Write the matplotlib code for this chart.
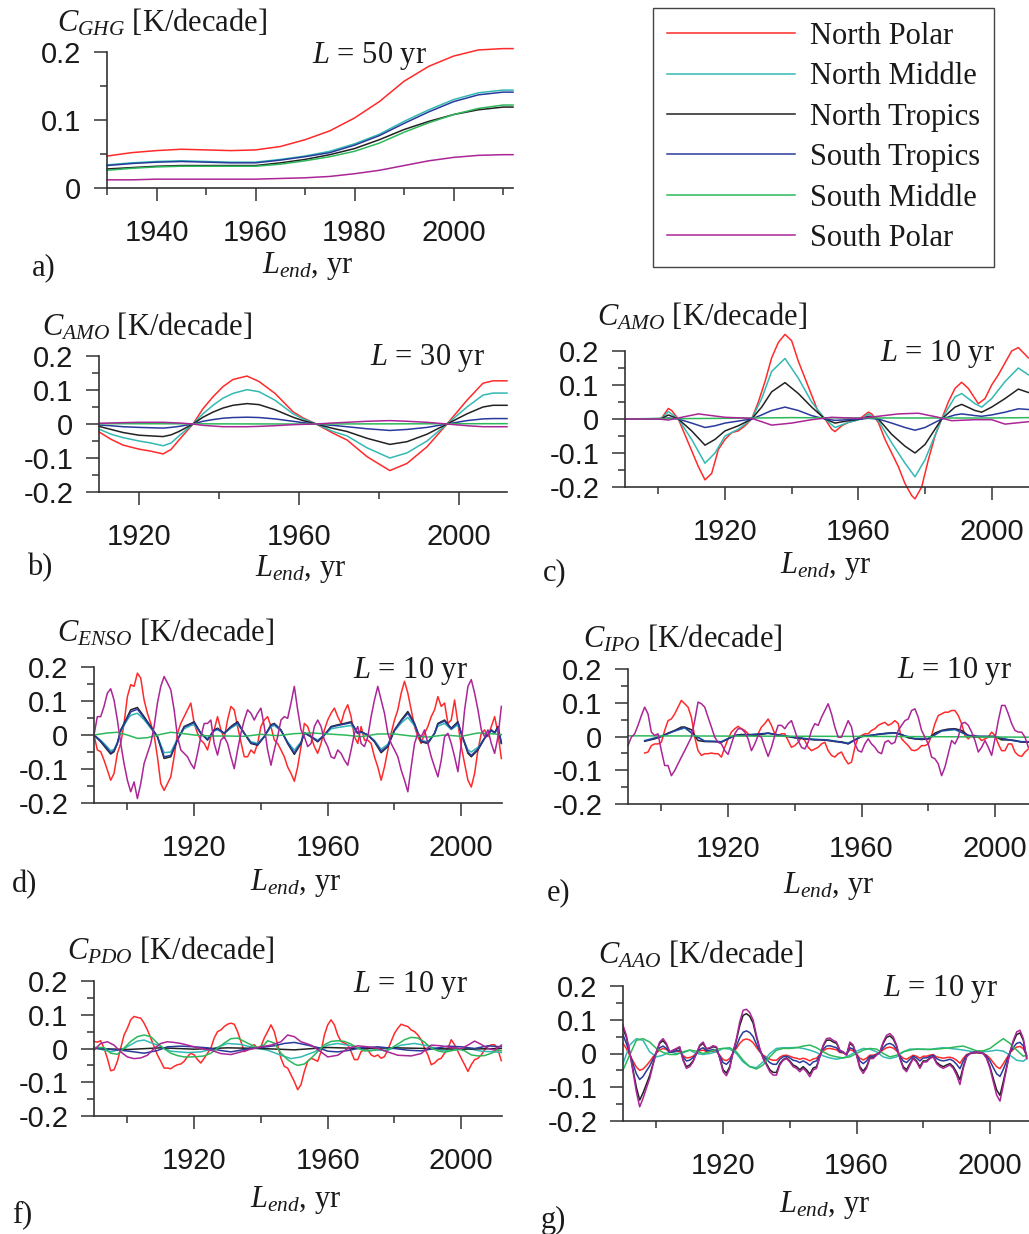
import numpy as np
import matplotlib
matplotlib.use("Agg")
import matplotlib.pyplot as plt
from matplotlib.font_manager import FontProperties

plt.rcParams["font.family"] = "Liberation Sans"
plt.rcParams["mathtext.fontset"] = "custom"
plt.rcParams["mathtext.rm"] = "Liberation Serif"
plt.rcParams["mathtext.it"] = "Liberation Serif:italic"

W, H = 1029, 1234

# ---------------- data ----------------
zones = ["North Polar", "North Middle", "North Tropics", "South Tropics", "South Middle", "South Polar"]
colors = ["#ff2a2a", "#33b9b3", "#222222", "#2a3a9c", "#2db85a", "#ab2596"]

# a) GHG, L = 50 yr
a_years = [1930, 1935, 1940, 1945, 1950, 1955, 1960, 1965, 1970, 1975, 1980, 1985, 1990, 1995, 2000, 2005, 2010, 2012]
a_red = [.047, .052, .055, .057, .056, .055, .056, .061, .071, .084, .103, .127, .157, .179, .194, .203, .205, .205]
a_cyan = [.034, .037, .039, .040, .039, .038, .038, .042, .047, .054, .065, .079, .098, .115, .130, .140, .144, .144]
a_black = [.028, .030, .032, .033, .033, .033, .033, .037, .042, .049, .058, .071, .086, .098, .108, .115, .119, .119]
a_blue = [.033, .036, .038, .039, .038, .037, .037, .041, .046, .052, .063, .077, .095, .112, .127, .137, .141, .141]
a_green = [.026, .029, .031, .032, .032, .032, .032, .035, .040, .046, .054, .066, .082, .096, .108, .117, .122, .122]
a_magenta = [.012, .012, .013, .013, .013, .013, .013, .014, .015, .017, .021, .026, .033, .040, .045, .048, .049, .049]

# b) AMO, L = 30 yr
b_years = [1910, 1913, 1916, 1920, 1923, 1926, 1928, 1930, 1933.5, 1936, 1938.5, 1941, 1943.5, 1947, 1950,
           1954, 1958.5, 1961, 1964.3, 1968.5, 1972, 1977, 1982.7, 1987, 1992, 1997, 2002, 2006, 2008.5, 2012]
b_red = [-0.023, -0.045, -0.062, -0.074, -0.080, -0.088, -0.075, -0.047, 0.0, 0.045, 0.080, 0.110, 0.131, 0.141, 0.125,
         0.090, 0.036, 0.018, 0.0, -0.027, -0.047, -0.096, -0.137, -0.116, -0.067, 0.0, 0.070, 0.120, 0.127, 0.127]
b_cyan = [-0.015, -0.030, -0.040, -0.050, -0.056, -0.064, -0.056, -0.035, 0.0, 0.030, 0.055, 0.076, 0.090, 0.101, 0.095,
          0.070, 0.030, 0.015, 0.0, -0.022, -0.035, -0.070, -0.100, -0.085, -0.050, 0.0, 0.050, 0.085, 0.091, 0.091]
b_black = [-0.007, -0.016, -0.025, -0.033, -0.035, -0.037, -0.032, -0.022, 0.0, 0.020, 0.035, 0.047, 0.055, 0.060, 0.057,
           0.042, 0.020, 0.010, 0.0, -0.013, -0.022, -0.042, -0.060, -0.052, -0.030, 0.0, 0.030, 0.050, 0.055, 0.055]
b_blue = [-0.003, -0.005, -0.008, -0.010, -0.011, -0.012, -0.010, -0.007, 0.0, 0.008, 0.013, 0.017, 0.019, 0.020, 0.019,
          0.015, 0.008, 0.004, 0.0, -0.004, -0.008, -0.014, -0.019, -0.016, -0.010, 0.0, 0.010, 0.015, 0.016, 0.016]
b_green_years = [1910, 1960, 2012]
b_green = [0.001, 0.0, 0.001]
b_magenta = [0.002, 0.003, 0.004, 0.005, 0.005, 0.005, 0.004, 0.003, 0.0, -0.004, -0.006, -0.008, -0.008, -0.008, -0.007,
             -0.005, -0.002, -0.001, 0.0, 0.003, 0.005, 0.008, 0.010, 0.008, 0.005, 0.0, -0.005, -0.008, -0.008, -0.008]

# c) AMO, L = 10 yr
c_red_years = [1890, 1900, 1901, 1903, 1904, 1906, 1909, 1912, 1914, 1916, 1918, 1920, 1922, 1924, 1926, 1928, 1930,
               1932, 1934, 1936, 1938, 1940, 1942, 1944, 1946, 1948, 1950, 1952, 1953, 1955, 1957, 1959, 1961, 1963,
               1964, 1966, 1968, 1970, 1972, 1974, 1976, 1977, 1979, 1981, 1983, 1985, 1987, 1989, 1991, 1993, 1995,
               1996, 1998, 2000, 2002, 2004, 2006, 2008, 2010, 2011]
c_red = [0, 0, 0.003, 0.031, 0.025, 0.0, -0.07, -0.14, -0.179, -0.16, -0.09, -0.06, -0.04, -0.035, -0.02, 0.0, 0.05,
         0.11, 0.18, 0.225, 0.249, 0.23, 0.17, 0.12, 0.07, 0.02, 0.0, -0.03, -0.037, -0.02, -0.01, -0.005, 0.005, 0.02,
         0.015, -0.01, -0.06, -0.1, -0.14, -0.19, -0.225, -0.235, -0.2, -0.12, -0.05, 0.0, 0.05, 0.09, 0.108, 0.09, 0.06,
         0.045, 0.06, 0.1, 0.13, 0.165, 0.2, 0.21, 0.19, 0.18]
c_years = [1890, 1901, 1903, 1906, 1910, 1914, 1917, 1920, 1924, 1928, 1931, 1934, 1938, 1942, 1946, 1950, 1953,
           1957, 1961, 1963, 1966, 1970, 1974, 1977, 1980, 1985, 1989, 1991, 1995, 1997, 2000, 2004, 2008, 2011]
c_cyan = [0, 0.002, 0.022, 0.0, -0.06, -0.13, -0.1, -0.05, -0.03, 0.0, 0.06, 0.14, 0.178, 0.12, 0.05, 0.0, -0.025,
          -0.01, 0.0, 0.015, -0.005, -0.07, -0.13, -0.17, -0.12, 0.0, 0.065, 0.075, 0.045, 0.035, 0.06, 0.11, 0.15, 0.13]
c_black = [0, 0.001, 0.012, 0.0, -0.035, -0.077, -0.06, -0.035, -0.02, 0.0, 0.035, 0.08, 0.107, 0.075, 0.035, 0.0, -0.012,
           -0.005, 0.0, 0.008, 0.0, -0.045, -0.08, -0.1, -0.075, 0.0, 0.035, 0.043, 0.025, 0.02, 0.035, 0.06, 0.088, 0.078]
c_blue = [0, 0.0, 0.003, 0.0, -0.012, -0.025, -0.02, -0.012, -0.006, 0.0, 0.012, 0.025, 0.035, 0.025, 0.01, 0.0, -0.004,
          -0.002, 0.0, 0.002, 0.0, -0.012, -0.025, -0.033, -0.025, 0.0, 0.012, 0.015, 0.01, 0.008, 0.012, 0.02, 0.03, 0.028]
c_green_years = [1890, 1905, 1920, 1940, 1960, 1980, 2000, 2011]
c_green = [0, 0.001, 0.002, 0.004, 0.003, 0.003, 0.003, 0.004]
c_magenta_years = [1890, 1900, 1903, 1906, 1912, 1920, 1928, 1934, 1940, 1946, 1952, 1960, 1966, 1972, 1978, 1984,
                   1988, 1995, 2000, 2004, 2011]
c_magenta = [0, 0, -0.003, 0.003, 0.015, 0.005, 0.002, -0.018, -0.012, -0.002, 0.005, 0.002, 0.008, 0.015, 0.017, 0.005,
             -0.005, -0.002, -0.002, -0.015, -0.008]

# d) ENSO, L = 10 yr
annual = np.arange(1890, 2013)
d_red = [0, -0.044, -0.049, -0.074, -0.103, -0.133, -0.113, -0.054, -0.025, 0.034,
         0.113, 0.148, 0.143, 0.182, 0.167, 0.103, 0.064, 0.034, 0.0, -0.064,
         -0.143, -0.163, -0.143, -0.123, -0.064, 0.005, 0.034, 0.054, 0.074, 0.094,
         0.034, 0.005, -0.015, -0.025, -0.044, -0.005, 0.015, 0.054, 0.015, -0.010,
         0.044, 0.084, 0.074, 0.025, -0.020, -0.064, -0.064, -0.044, -0.054, -0.025,
         0.025, 0.044, 0.054, 0.025, -0.015, -0.025, -0.044, -0.064, -0.094, -0.113,
         -0.136, -0.094, -0.034, 0.034, 0.025, -0.005, -0.034, -0.054, -0.025, 0.015,
         0.044, 0.064, 0.079, 0.054, 0.034, 0.069, 0.089, 0.054, -0.005, -0.025,
         0.025, -0.015, -0.015, -0.025, -0.064, -0.094, -0.133, -0.094, -0.044, 0.005,
         0.044, 0.074, 0.123, 0.158, 0.123, 0.074, 0.025, -0.005, -0.025, 0.005,
         0.025, 0.054, 0.074, 0.113, 0.084, 0.094, 0.034, 0.044, 0.103, 0.034,
         -0.034, -0.084, -0.133, -0.153, -0.113, -0.044, 0.005, 0.015, -0.005, 0.025,
         0.054, 0.005, -0.069]
d_magenta = [0, 0.054, 0.054, 0.084, 0.123, 0.136, 0.103, 0.044, -0.025, -0.084,
             -0.133, -0.167, -0.138, -0.187, -0.143, -0.084, -0.054, -0.025, 0.025, 0.094,
             0.143, 0.172, 0.153, 0.133, 0.074, -0.005, -0.044, -0.054, -0.064, -0.084,
             -0.099, -0.054, -0.005, 0.034, 0.034, 0.044, -0.025, -0.059, -0.015, -0.005,
             -0.025, -0.064, -0.099, -0.044, 0.005, 0.044, 0.074, 0.064, 0.044, 0.064,
             0.079, 0.025, -0.044, -0.089, -0.044, -0.005, 0.044, 0.054, 0.049, 0.094,
             0.143, 0.074, 0.015, -0.005, -0.034, -0.025, 0.025, 0.044, 0.025, -0.015,
             -0.034, -0.064, -0.069, -0.044, -0.054, -0.074, -0.089, -0.044, 0.005, 0.025,
             -0.025, -0.034, -0.005, 0.054, 0.103, 0.143, 0.103, 0.064, 0.005, -0.025,
             -0.044, -0.064, -0.103, -0.133, -0.167, -0.094, -0.025, 0.005, -0.005, 0.015,
             -0.025, -0.064, -0.094, -0.123, -0.074, -0.005, 0.005, -0.025, -0.064, -0.108,
             -0.025, 0.074, 0.143, 0.163, 0.123, 0.074, 0.015, -0.005, 0.015, -0.025,
             -0.054, -0.005, 0.084]
d_years = [1890, 1892, 1894, 1895, 1896, 1897, 1898, 1899, 1900, 1901, 1903, 1905, 1907, 1909, 1911, 1913, 1915,
           1917, 1919, 1920, 1922, 1924, 1926, 1927, 1929, 1931, 1933, 1935, 1937, 1939, 1941, 1943, 1944, 1946,
           1948, 1950, 1952, 1953, 1955, 1957, 1959, 1961, 1963, 1965, 1967, 1969, 1970, 1972, 1974, 1976, 1978,
           1980, 1982, 1984, 1986, 1988, 1990, 1992, 1993, 1995, 1997, 1999, 2000, 2002, 2003, 2005, 2007, 2009,
           2010, 2011, 2012]
d_black = [0, -0.020, -0.044, -0.056, -0.049, -0.025, 0.015, 0.034, 0.054, 0.074, 0.081, 0.054, 0.025, -0.005,
           -0.069, -0.064, -0.015, 0.025, 0.034, 0.039, 0.005, -0.015, 0.015, 0.020, 0.005, 0.025, 0.039, 0.005,
           -0.025, -0.030, -0.005, 0.030, 0.034, 0.015, -0.025, -0.057, -0.025, 0.007, -0.005, -0.020, 0.0, 0.025,
           0.030, 0.034, 0.039, 0.005, 0.010, 0.0, -0.020, -0.052, -0.034, 0.015, 0.044, 0.069, 0.034, -0.020,
           -0.025, 0.005, 0.034, 0.044, 0.020, 0.039, 0.005, -0.054, -0.064, -0.044, -0.010, 0.015, 0.007, 0.025,
           -0.025]
d_cyan = [0, -0.015, -0.035, -0.046, -0.042, -0.022, 0.010, 0.028, 0.045, 0.058, 0.064, 0.045, 0.020, -0.005,
          -0.052, -0.050, -0.012, 0.018, 0.028, 0.030, 0.005, -0.010, 0.012, 0.015, 0.005, 0.020, 0.032, 0.005,
          -0.020, -0.024, -0.004, 0.024, 0.028, 0.012, -0.020, -0.045, -0.020, 0.005, -0.004, -0.015, 0.0, 0.018,
          0.022, 0.025, 0.028, 0.004, 0.008, 0.0, -0.016, -0.042, -0.027, 0.012, 0.035, 0.052, 0.027, -0.016,
          -0.020, 0.004, 0.026, 0.034, 0.016, 0.030, 0.004, -0.044, -0.050, -0.036, -0.008, 0.012, 0.006, 0.018,
          -0.020]
d_blue = [0, -0.018, -0.040, -0.052, -0.046, -0.024, 0.013, 0.031, 0.050, 0.068, 0.076, 0.050, 0.023, -0.005,
          -0.064, -0.060, -0.014, 0.023, 0.032, 0.036, 0.005, -0.014, 0.014, 0.018, 0.005, 0.023, 0.036, 0.005,
          -0.023, -0.028, -0.005, 0.028, 0.032, 0.014, -0.023, -0.053, -0.023, 0.006, -0.005, -0.018, 0.0, 0.023,
          0.028, 0.032, 0.036, 0.005, 0.009, 0.0, -0.018, -0.048, -0.032, 0.014, 0.041, 0.064, 0.032, -0.018,
          -0.023, 0.005, 0.032, 0.041, 0.018, 0.036, 0.005, -0.050, -0.060, -0.041, -0.009, 0.014, 0.006, 0.023,
          -0.023]
d_green_years = [1890, 1894, 1897, 1900, 1903, 1906, 1910, 1913, 1916, 1920, 1925, 1930, 1935, 1940, 1945, 1950,
                 1955, 1960, 1965, 1970, 1975, 1980, 1985, 1990, 1995, 2000, 2005, 2010, 2012]
d_green = [0, 0.006, 0.008, 0.0, -0.01, -0.008, 0.002, 0.008, 0.005, 0, -0.003, -0.003, -0.004, 0.002, -0.002, 0.004,
           0.006, 0.003, 0.0, -0.005, 0.003, 0.003, -0.003, -0.006, 0.0, -0.004, 0.006, 0.003, 0.001]

# e) IPO, L = 10 yr
e_red_years = np.arange(1895, 2011)
e_red = [-0.049, -0.046, -0.027, -0.022, -0.022,
         -0.017, 0.018, 0.047, 0.052, 0.067, 0.087, 0.107, 0.097, 0.087, 0.057,
         -0.002, -0.042, -0.056, -0.051, -0.051, -0.049, -0.051, -0.051, -0.061, -0.032,
         -0.007, 0.013, 0.023, 0.030, 0.023, 0.018, 0.008, 0.003, 0.003, 0.008,
         0.028, 0.038, 0.052, 0.033, 0.008, 0.003, 0.008, 0.008, -0.012, -0.032,
         -0.027, -0.017, -0.002, -0.012, -0.032, -0.042, -0.037, -0.032, -0.022, -0.017,
         -0.042, -0.056, -0.061, -0.051, -0.046, -0.066, -0.081, -0.076, -0.032, -0.002,
         0.003, 0.008, 0.008, 0.018, 0.023, 0.033, 0.038, 0.042, 0.033, 0.038,
         0.047, 0.038, -0.007, -0.017, -0.027, -0.040, -0.042, -0.037, -0.027, -0.027,
         -0.022, 0.003, 0.038, 0.062, 0.067, 0.072, 0.072, 0.077, 0.077, 0.062,
         0.038, 0.003, -0.007, 0.003, 0.003, -0.002, -0.012, -0.007, -0.002, 0.013,
         0.003, -0.022, -0.042, -0.042, -0.022, -0.022, -0.046, -0.056, -0.059, -0.046,
         -0.037]
e_magenta_years = np.arange(1890, 2011)
e_magenta = [-0.027, -0.002, 0.008, 0.033, 0.062, 0.087, 0.067, 0.013, 0.003, 0.008,
             -0.042, -0.086, -0.086, -0.116, -0.101, -0.081, -0.061, -0.042, -0.022, -0.002,
             0.047, 0.102, 0.097, 0.087, 0.057, 0.028, -0.002, -0.017, -0.022, -0.042,
             -0.053, -0.022, 0.008, 0.023, 0.023, 0.013, -0.007, -0.042, -0.022, 0.003,
             -0.002, -0.032, -0.059, -0.032, 0.003, 0.033, 0.033, 0.023, 0.038, 0.047,
             0.018, -0.012, -0.032, -0.037, -0.017, 0.018, 0.038, 0.033, 0.057, 0.077,
             0.097, 0.067, 0.028, -0.002, -0.002, 0.023, 0.047, 0.028, -0.022, -0.042,
             -0.046, -0.022, -0.007, -0.022, -0.032, -0.046, -0.051, -0.017, -0.012, -0.022,
             -0.017, 0.018, 0.033, 0.047, 0.052, 0.077, 0.082, 0.057, 0.018, -0.002,
             -0.022, -0.061, -0.066, -0.081, -0.116, -0.091, -0.051, -0.012, -0.022, -0.002,
             0.038, 0.042, 0.033, 0.013, -0.012, -0.046, -0.032, -0.012, -0.032, -0.056,
             -0.007, 0.047, 0.092, 0.092, 0.067, 0.038, 0.018, 0.013, 0.013, -0.002,
             -0.032]
e_black_years = [1895, 1898, 1900, 1902, 1904, 1906, 1907, 1909, 1910, 1911, 1913, 1916, 1918, 1920, 1922, 1924,
                 1926, 1928, 1930, 1932, 1934, 1936, 1938, 1940, 1942, 1944, 1946, 1948, 1950, 1952, 1954, 1956,
                 1958, 1960, 1962, 1964, 1966, 1968, 1970, 1972, 1974, 1976, 1978, 1980, 1982, 1984, 1986, 1988,
                 1990, 1992, 1994, 1996, 1998, 2000, 2002, 2004, 2006, 2008, 2010]
e_black = [-0.014, -0.007, 0.0, 0.010, 0.018, 0.028, 0.028, 0.020, 0.003, -0.012, -0.015, -0.015, -0.017, -0.007,
           0.003, 0.006, 0.005, 0.003, 0.006, 0.010, 0.006, 0.001, 0.0, -0.004, -0.006, -0.008, -0.010, -0.010,
           -0.012, -0.015, -0.016, -0.022, -0.010, 0.0, 0.002, 0.005, 0.008, 0.010, 0.011, 0.006, -0.004, -0.007,
           -0.009, -0.007, 0.010, 0.018, 0.022, 0.023, 0.018, 0.003, -0.002, 0.0, 0.0, 0.0, -0.010, -0.010, -0.012,
           -0.017, -0.017]
e_years = [1895, 1900, 1904, 1907, 1910, 1913, 1918, 1922, 1926, 1932, 1938, 1944, 1950, 1956, 1960, 1966, 1970,
           1976, 1980, 1984, 1988, 1992, 1996, 2000, 2004, 2008, 2010]
e_cyan = [-0.012, 0.002, 0.016, 0.025, 0.003, -0.013, -0.015, 0.003, 0.005, 0.009, 0.0, -0.007, -0.010, -0.019, 0.0,
          0.007, 0.010, -0.006, -0.006, 0.016, 0.020, 0.003, 0.0, 0.0, -0.009, -0.015, -0.015]
e_blue = [-0.013, 0.0, 0.017, 0.027, 0.003, -0.014, -0.016, 0.003, 0.005, 0.010, 0.0, -0.008, -0.011, -0.021, 0.0,
          0.008, 0.011, -0.007, -0.007, 0.017, 0.022, 0.003, 0.0, 0.0, -0.010, -0.016, -0.016]
e_green_years = [1890, 1930, 1970, 2010]
e_green = [0.002, 0.001, 0.0, -0.002]

# f) PDO, L = 10 yr
f_red = [0.021, 0.019, 0.023, 0.001, -0.029, -0.066, -0.063, -0.038, 0.001, 0.040,
         0.060, 0.085, 0.095, 0.092, 0.090, 0.075, 0.055, 0.031, 0.006, -0.019,
         -0.038, -0.058, -0.058, -0.060, -0.053, -0.048, -0.046, -0.038, -0.024, -0.014,
         -0.019, -0.033, -0.043, -0.029, -0.014, 0.001, 0.031, 0.050, 0.055, 0.065,
         0.072, 0.075, 0.072, 0.050, 0.021, -0.009, -0.004, 0.006, 0.011, 0.001,
         0.006, 0.031, 0.050, 0.070, 0.050, 0.011, -0.029, -0.053, -0.058, -0.078,
         -0.098, -0.122, -0.107, -0.068, -0.038, -0.029, -0.033, -0.038, -0.009, 0.040,
         0.070, 0.085, 0.070, 0.040, 0.021, 0.016, 0.011, -0.009, -0.033, -0.033,
         -0.009, -0.004, -0.004, -0.019, -0.024, -0.019, -0.029, -0.024, -0.004, 0.021,
         0.045, 0.060, 0.072, 0.068, 0.065, 0.055, 0.050, 0.040, 0.026, 0.001,
         -0.019, -0.048, -0.043, -0.033, -0.029, -0.014, 0.001, 0.026, 0.011, -0.009,
         -0.029, -0.048, -0.068, -0.048, -0.033, -0.029, -0.019, -0.004, 0.006, 0.011,
         0.011, -0.004, -0.036]
f_cyan_years = [1890, 1895, 1899, 1903, 1905, 1909, 1913, 1918, 1922, 1926, 1930, 1934, 1938, 1942, 1946, 1949,
                1952, 1956, 1960, 1963, 1967, 1971, 1975, 1978, 1982, 1986, 1990, 1994, 1998, 2002, 2006, 2010, 2012]
f_cyan = [0.003, -0.01, 0.0, 0.022, 0.025, 0.01, -0.008, -0.012, -0.01, 0, 0.015, 0.012, 0.002, -0.005, -0.02, -0.03,
          -0.025, -0.01, 0.01, 0.015, 0.008, -0.005, -0.005, -0.005, 0.01, 0.015, 0.008, -0.005, -0.005, 0, -0.008,
          -0.01, -0.012]
f_black_years = [1890, 1900, 1910, 1920, 1930, 1940, 1950, 1960, 1970, 1980, 1990, 2000, 2012]
f_black = [0, -0.003, 0.002, -0.002, 0.002, 0, -0.004, 0.003, 0, 0.002, 0, -0.002, 0]
f_blue_years = [1890, 1895, 1898, 1902, 1905, 1909, 1912, 1916, 1920, 1924, 1928, 1931, 1935, 1940, 1944, 1947,
                1950, 1953, 1957, 1960, 1963, 1966, 1970, 1975, 1980, 1984, 1988, 1992, 1996, 2000, 2004, 2008, 2012]
f_blue = [0.002, -0.003, -0.005, -0.01, -0.014, -0.006, 0.005, 0.007, 0.005, 0.002, -0.006, -0.01, -0.003, 0.003,
          0.008, 0.015, 0.018, 0.012, 0.003, -0.008, -0.01, -0.006, 0.002, 0.005, 0.0, -0.005, -0.007, 0.0, 0.007,
          0.005, 0.0, 0.008, 0.005]
f_green_years = [1890, 1893, 1895, 1897, 1899, 1901, 1903, 1905, 1907, 1909, 1911, 1913, 1915, 1917, 1919, 1921,
                 1923, 1925, 1927, 1929, 1931, 1933, 1935, 1937, 1939, 1941, 1942, 1944, 1946, 1948, 1950, 1951,
                 1953, 1955, 1957, 1959, 1961, 1963, 1965, 1967, 1969, 1971, 1973, 1975, 1977, 1979, 1981, 1983,
                 1985, 1987, 1989, 1991, 1993, 1995, 1997, 1999, 2001, 2003, 2005, 2007, 2009, 2011, 2012]
f_green = [0.003, 0.003, -0.014, -0.017, 0.001, 0.021, 0.035, 0.040, 0.035, 0.016, -0.001, -0.014, -0.021, -0.025,
           -0.025, -0.024, -0.022, -0.014, 0.001, 0.016, 0.029, 0.031, 0.021, 0.011, 0.003, 0.011, 0.023, 0.016,
           -0.014, -0.033, -0.046, -0.050, -0.046, -0.029, -0.009, 0.011, 0.021, 0.023, 0.021, 0.013, 0.001,
           -0.007, -0.007, -0.001, -0.007, 0.001, 0.013, 0.026, 0.033, 0.031, 0.019, 0.001, -0.007, -0.011,
           -0.007, -0.001, -0.007, -0.019, -0.022, -0.021, -0.014, -0.004, -0.007]
f_magenta_years = [1890, 1892, 1894, 1896, 1898, 1900, 1902, 1904, 1906, 1908, 1910, 1912, 1914, 1916, 1918, 1920,
                   1922, 1925, 1928, 1931, 1934, 1937, 1940, 1943, 1946, 1948, 1950, 1952, 1955, 1958, 1960, 1963,
                   1966, 1969, 1972, 1975, 1978, 1981, 1985, 1988, 1991, 1994, 1997, 2000, 2002, 2004, 2006, 2008,
                   2010, 2012]
f_magenta = [-0.005, 0.015, 0.02, 0.01, -0.01, -0.025, -0.03, -0.028, -0.02, 0.0,
             0.015, 0.02, 0.018, 0.015, 0.01, 0.005, 0.0, -0.005, -0.015, -0.018,
             -0.01, -0.002, 0.005, 0.01, 0.02, 0.04, 0.035, 0.02, 0.01, -0.01,
             -0.025, -0.02, 0.0, 0.008, 0.005, 0.0, -0.01, -0.02, -0.022, -0.015,
             0.01, 0.008, 0.003, 0.0, 0.01, 0.022, 0.012, 0.0, -0.005, 0.01]

# g) AAO, L = 10 yr
g_years = np.arange(1890, 2012)
g_magenta = [0.084, 0.054, 0.005, -0.054, -0.113, -0.158, -0.133, -0.103, -0.074, -0.034,
             0.005, 0.034, 0.044, 0.030, 0.005, 0.010, 0.015, 0.020, -0.020, -0.044,
             -0.039, -0.025, 0.0, 0.025, 0.034, 0.015, 0.017, 0.023, 0.020, -0.015,
             -0.054, -0.066, -0.044, 0.005, 0.044, 0.094, 0.128, 0.131, 0.121, 0.099,
             0.054, 0.015, -0.015, -0.034, -0.054, -0.064, -0.064, -0.034, -0.020, -0.015,
             -0.025, -0.039, -0.044, -0.054, -0.044, -0.054, -0.069, -0.049, -0.044, -0.010,
             0.025, 0.044, 0.046, 0.039, 0.034, 0.010, 0.005, -0.005, 0.034, 0.025,
             -0.005, -0.044, -0.059, -0.044, -0.015, -0.015, -0.005, 0.005, 0.034, 0.054,
             0.059, 0.049, 0.025, -0.015, -0.044, -0.054, -0.034, -0.015, -0.025, -0.044,
             -0.025, -0.025, -0.015, -0.010, -0.030, -0.039, -0.044, -0.039, -0.034, -0.044,
             -0.064, -0.092, -0.044, -0.010, 0.0, 0.003, 0.005, 0.003, 0.0, -0.015,
             -0.044, -0.084, -0.123, -0.141, -0.094, -0.044, 0.005, 0.039, 0.064, 0.069,
             0.044, -0.015]
g_black = [0.074, 0.048, 0.004, -0.048, -0.100, -0.138, -0.117, -0.091, -0.065, -0.030,
           0.004, 0.030, 0.038, 0.026, 0.004, 0.009, 0.013, 0.018, -0.018, -0.039,
           -0.034, -0.022, 0.0, 0.022, 0.030, 0.013, 0.015, 0.020, 0.018, -0.013,
           -0.048, -0.058, -0.039, 0.004, 0.040, 0.083, 0.113, 0.118, 0.110, 0.090,
           0.048, 0.013, -0.013, -0.030, -0.048, -0.056, -0.056, -0.030, -0.018, -0.013,
           -0.022, -0.034, -0.039, -0.048, -0.039, -0.048, -0.061, -0.043, -0.039, -0.009,
           0.022, 0.039, 0.040, 0.034, 0.030, 0.009, 0.004, -0.004, 0.030, 0.022,
           -0.004, -0.039, -0.052, -0.039, -0.013, -0.013, -0.004, 0.004, 0.030, 0.048,
           0.052, 0.043, 0.022, -0.013, -0.039, -0.048, -0.030, -0.013, -0.022, -0.039,
           -0.022, -0.022, -0.013, -0.009, -0.026, -0.034, -0.039, -0.034, -0.030, -0.039,
           -0.056, -0.078, -0.039, -0.009, 0.0, 0.003, 0.004, 0.003, 0.0, -0.013,
           -0.039, -0.074, -0.108, -0.124, -0.083, -0.039, 0.004, 0.034, 0.056, 0.061,
           0.039, -0.013]
g_blue = [0.055, 0.030, 0.0, -0.030, -0.060, -0.077, -0.068, -0.052, -0.037, -0.017,
          0.003, 0.017, 0.022, 0.015, 0.003, 0.005, 0.008, 0.010, -0.010, -0.022,
          -0.020, -0.012, 0.0, 0.012, 0.017, 0.008, 0.009, 0.012, 0.010, -0.008,
          -0.027, -0.032, -0.022, 0.003, 0.022, 0.047, 0.063, 0.067, 0.062, 0.050,
          0.027, 0.008, -0.008, -0.017, -0.027, -0.032, -0.032, -0.017, -0.010, -0.008,
          -0.013, -0.020, -0.022, -0.027, -0.022, -0.027, -0.035, -0.025, -0.022, -0.005,
          0.013, 0.022, 0.023, 0.020, 0.017, 0.005, 0.003, -0.003, 0.017, 0.013,
          -0.003, -0.022, -0.030, -0.022, -0.008, -0.008, -0.003, 0.003, 0.017, 0.027,
          0.030, 0.025, 0.013, -0.008, -0.022, -0.027, -0.017, -0.008, -0.013, -0.022,
          -0.013, -0.013, -0.008, -0.005, -0.015, -0.020, -0.022, -0.020, -0.017, -0.022,
          -0.032, -0.045, -0.022, -0.005, 0.0, 0.002, 0.003, 0.002, 0.0, -0.008,
          -0.022, -0.042, -0.060, -0.068, -0.047, -0.022, 0.003, 0.018, 0.030, 0.033,
          0.022, -0.008]
g_red = [0.030, 0.015, -0.005, -0.022, -0.040, -0.050, -0.046, -0.036, -0.024, -0.010,
         0.002, 0.010, 0.015, 0.012, 0.004, 0.005, 0.006, 0.006, -0.006, -0.013,
         -0.012, -0.008, 0.0, 0.008, 0.010, 0.006, 0.006, 0.007, 0.006, -0.005,
         -0.018, -0.021, -0.015, 0.002, 0.015, 0.030, 0.040, 0.043, 0.040, 0.032,
         0.018, 0.005, -0.005, -0.011, -0.017, -0.020, -0.020, -0.011, -0.006, -0.005,
         -0.008, -0.012, -0.014, -0.017, -0.014, -0.017, -0.022, -0.016, -0.014, -0.003,
         0.008, 0.014, 0.015, 0.013, 0.011, 0.003, 0.002, -0.002, 0.011, 0.008,
         -0.002, -0.014, -0.019, -0.014, -0.005, -0.005, -0.002, 0.002, 0.011, 0.017,
         0.019, 0.016, 0.008, -0.005, -0.014, -0.017, -0.011, -0.005, -0.008, -0.014,
         -0.008, -0.008, -0.005, -0.003, -0.010, -0.012, -0.014, -0.012, -0.011, -0.014,
         -0.020, -0.029, -0.014, -0.003, 0.0, 0.001, 0.002, 0.001, 0.0, -0.005,
         -0.014, -0.027, -0.039, -0.045, -0.030, -0.014, 0.002, 0.012, 0.019, 0.021,
         0.014, -0.005]
g_smooth_years = [1890, 1892, 1894, 1896, 1898, 1900, 1902, 1904, 1906, 1908, 1910, 1912, 1914, 1916, 1918, 1920,
                  1922, 1924, 1926, 1928, 1930, 1932, 1934, 1936, 1938, 1940, 1942, 1944, 1946, 1948, 1950, 1952,
                  1954, 1956, 1958, 1960, 1962, 1964, 1966, 1968, 1970, 1972, 1974, 1976, 1978, 1980, 1982, 1984,
                  1986, 1988, 1990, 1992, 1994, 1996, 1998, 2000, 2002, 2004, 2006, 2008, 2010, 2011]
g_green = [-0.049, -0.005, 0.039, 0.044, 0.034, 0.015, 0.003, -0.003, -0.003, 0.005, 0.010, 0.007, 0.0, 0.005,
           0.013, 0.015, 0.017, 0.005, -0.020, -0.039, -0.046, -0.034, -0.010, 0.010, 0.015, 0.015, 0.017, 0.022,
           0.025, 0.017, 0.005, -0.005, -0.010, -0.013, -0.010, 0.0, 0.010, 0.015, 0.013, 0.0, -0.010, -0.005,
           0.005, 0.010, 0.013, 0.013, 0.012, 0.013, 0.015, 0.017, 0.020, 0.022, 0.015, 0.008, 0.008, 0.015,
           0.030, 0.044, 0.030, 0.010, -0.008, -0.005]
g_cyan = [-0.030, 0.025, 0.044, 0.039, 0.005, -0.010, -0.005, 0.005, 0.0, 0.002, 0.010, 0.0, -0.003, 0.0, 0.005,
          0.015, 0.013, 0.0, -0.025, -0.039, -0.042, -0.025, 0.0, 0.015, 0.017, 0.017, 0.018, 0.015, 0.010, 0.003,
          -0.007, -0.013, -0.017, -0.013, -0.005, 0.007, 0.015, 0.013, 0.005, -0.010, -0.015, -0.010, 0.005,
          0.013, 0.013, 0.012, 0.012, 0.015, 0.017, 0.015, 0.013, 0.010, 0.007, 0.005, 0.005, 0.007, 0.010,
          0.007, -0.005, -0.020, -0.023, -0.015]

# ---------------- figure ----------------
fig = plt.figure(figsize=(W / 100, H / 100), dpi=100)
serif = "Liberation Serif"
TXT = 22


def px_axes(left, top, right, bottom):
    return fig.add_axes([left / W, 1 - bottom / H, (right - left) / W, (bottom - top) / H])


def ftext(x, y, s, size=TXT):
    fig.text(x / W, 1 - y / H, s, fontsize=size, family=serif, va="baseline", ha="left", color="#1a1a1a")


def style_axis(ax, xlim, xmajor, xminor, ylim, ymajor, yminor, ylabels):
    ax.set_xlim(*xlim)
    ax.set_ylim(*ylim)
    ax.patch.set_alpha(0)
    for s in ["top", "right"]:
        ax.spines[s].set_visible(False)
    for s in ["left", "bottom"]:
        ax.spines[s].set_color("#333333")
        ax.spines[s].set_linewidth(1.2)
    ax.set_xticks(xmajor)
    ax.set_xticklabels([str(v) for v in xmajor])
    ax.set_xticks(xminor, minor=True)
    ax.set_yticks(ymajor)
    ax.set_yticklabels(ylabels)
    ax.set_yticks(yminor, minor=True)
    ax.tick_params(which="major", length=9.5, width=1.1, color="#333333", labelsize=21,
                   labelcolor="#1a1a1a", direction="out")
    ax.tick_params(which="minor", length=5, width=1.1, color="#333333", direction="out")
    ax.tick_params(axis="x", which="major", pad=13)
    ax.tick_params(axis="y", which="major", pad=9)


def plot_set(ax, series):
    lines = []
    for (xs, ys), col in zip(series, colors):
        ln, = ax.plot(xs, ys, color=col, lw=1.1, clip_on=False)
        lines.append(ln)
    return lines


y_major = [-0.2, -0.1, 0, 0.1, 0.2]
y_minor = [-0.15, -0.05, 0.05, 0.15]
y_labels = ["-0.2", "-0.1", "0", "0.1", "0.2"]
x_major = [1920, 1960, 2000]
x_minor = [1900, 1940, 1980]

# a
ax = px_axes(107, 52, 513, 188)
handles = plot_set(ax, [(a_years, a_red), (a_years, a_cyan), (a_years, a_black),
                        (a_years, a_blue), (a_years, a_green), (a_years, a_magenta)])
style_axis(ax, (1930, 2012), [1940, 1960, 1980, 2000], [1930, 1950, 1970, 1990, 2010],
           (0, 0.2), [0, 0.1, 0.2], [0.05, 0.15], ["0", "0.1", "0.2"])
ftext(57, 32, r"$C_{GHG}$ [K/decade]")
ftext(312, 63, r"$L$ = 50 yr")
ftext(262, 273, r"$L_{end}$, yr")
ftext(32, 275, "a)")

# b
ax = px_axes(99, 356, 507, 492)
plot_set(ax, [(b_years, b_red), (b_years, b_cyan), (b_years, b_black),
              (b_years, b_blue), (b_green_years, b_green), (b_years, b_magenta)])
style_axis(ax, (1910, 2012), x_major, [1940, 1980], (-0.2, 0.2), y_major, y_minor, y_labels)
ftext(42, 335, r"$C_{AMO}$ [K/decade]")
ftext(370, 365, r"$L$ = 30 yr")
ftext(255, 576, r"$L_{end}$, yr")
ftext(27, 575, "b)")

# c
ax = px_axes(625, 351, 1029, 487)
plot_set(ax, [(c_red_years, c_red), (c_years, c_cyan), (c_years, c_black),
              (c_years, c_blue), (c_green_years, c_green), (c_magenta_years, c_magenta)])
style_axis(ax, (1890, 2011.2), x_major, x_minor, (-0.2, 0.2), y_major, y_minor, y_labels)
ftext(597, 325, r"$C_{AMO}$ [K/decade]")
ftext(880, 361, r"$L$ = 10 yr")
ftext(780, 573, r"$L_{end}$, yr")
ftext(543, 580, "c)")

# d
ax = px_axes(94, 667, 502, 803)
plot_set(ax, [(annual, d_red), (d_years, d_cyan), (d_years, d_black),
              (d_years, d_blue), (d_green_years, d_green), (annual, d_magenta)])
style_axis(ax, (1890, 2012.2), x_major, x_minor, (-0.2, 0.2), y_major, y_minor, y_labels)
ftext(57, 642, r"$C_{ENSO}$ [K/decade]")
ftext(353, 678, r"$L$ = 10 yr")
ftext(250, 890, r"$L_{end}$, yr")
ftext(12, 892, "d)")

# e
ax = px_axes(628, 669, 1029, 804)
plot_set(ax, [(e_red_years, e_red), (e_years, e_cyan), (e_black_years, e_black),
              (e_years, e_blue), (e_green_years, e_green), (e_magenta_years, e_magenta)])
style_axis(ax, (1890, 2010.2), x_major, x_minor, (-0.2, 0.2), y_major, y_minor, y_labels)
ftext(583, 648, r"$C_{IPO}$ [K/decade]")
ftext(897, 678, r"$L$ = 10 yr")
ftext(783, 893, r"$L_{end}$, yr")
ftext(547, 900, "e)")

# f
ax = px_axes(94, 981, 502, 1116)
plot_set(ax, [(annual, f_red), (f_cyan_years, f_cyan), (f_black_years, f_black),
              (f_blue_years, f_blue), (f_green_years, f_green), (f_magenta_years, f_magenta)])
style_axis(ax, (1890, 2012.2), x_major, x_minor, (-0.2, 0.2), y_major, y_minor, y_labels)
ftext(67, 960, r"$C_{PDO}$ [K/decade]")
ftext(353, 992, r"$L$ = 10 yr")
ftext(250, 1207, r"$L_{end}$, yr")
ftext(12, 1222, "f)")

# g
ax = px_axes(623, 986, 1029, 1121)
plot_set(ax, [(g_years, g_red), (g_smooth_years, g_cyan), (g_years, g_black),
              (g_years, g_blue), (g_smooth_years, g_green), (g_years, g_magenta)])
style_axis(ax, (1890, 2011.7), x_major, x_minor, (-0.2, 0.2), y_major, y_minor, y_labels)
ftext(598, 964, r"$C_{AAO}$ [K/decade]")
ftext(883, 996, r"$L$ = 10 yr")
ftext(779, 1212, r"$L_{end}$, yr")
ftext(541, 1228, "g)")

# legend
leg = fig.legend(handles, zones, loc="upper left", bbox_to_anchor=(653 / W, 1 - 8 / H),
                 prop=FontProperties(family=serif, size=22), handlelength=4.2, handletextpad=0.5,
                 labelspacing=0.375, borderpad=0.45, borderaxespad=0, frameon=True, fancybox=False,
                 edgecolor="#444444", framealpha=1)
leg.get_frame().set_linewidth(1.0)
for t in leg.get_texts():
    t.set_color("#1a1a1a")

fig.savefig("out.png", dpi=100)
